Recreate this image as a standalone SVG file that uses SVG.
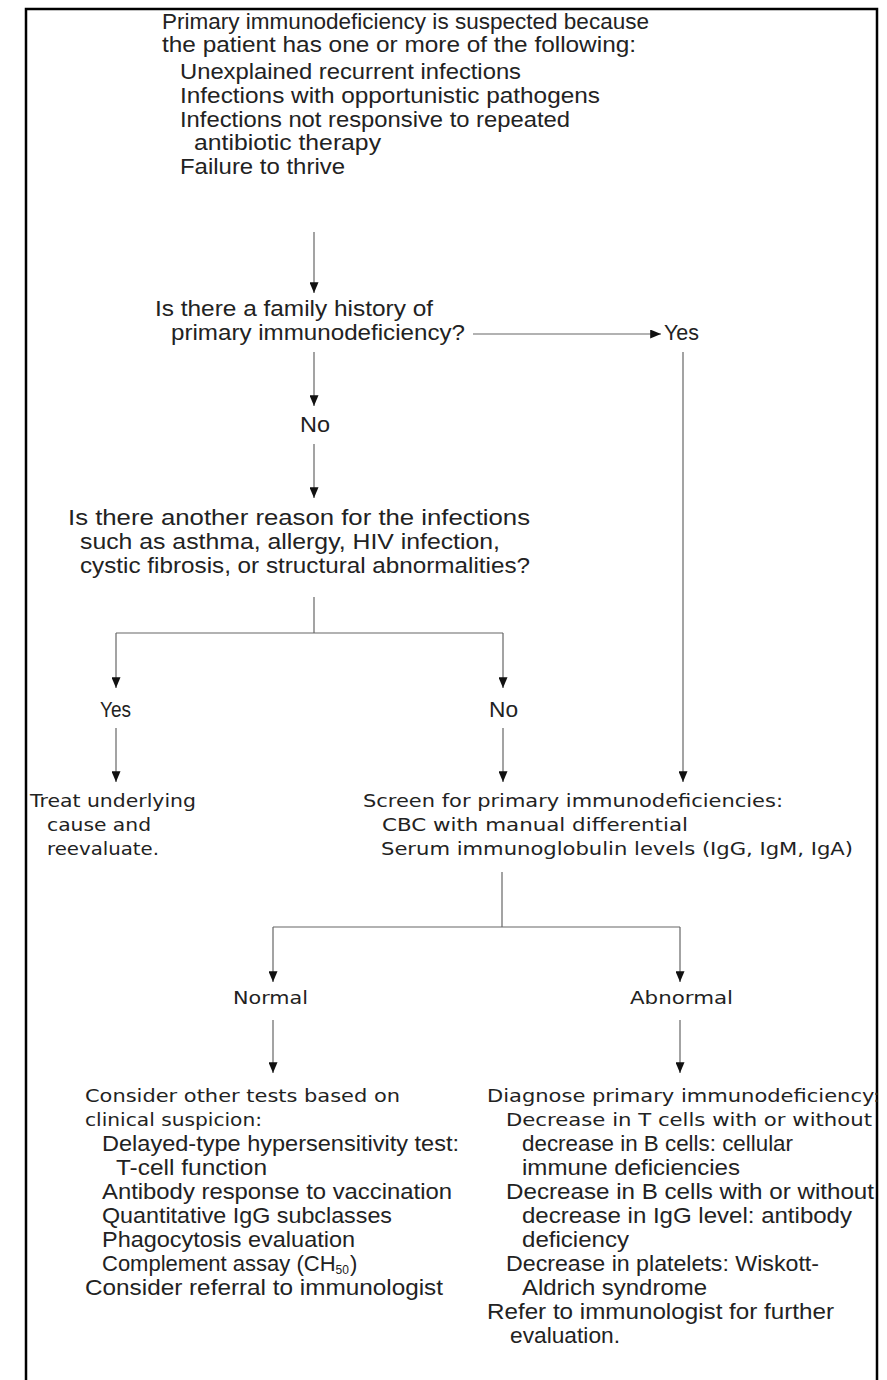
<svg xmlns="http://www.w3.org/2000/svg" width="887" height="1380" viewBox="0 0 887 1380">
<style>
.c{font-family:"Liberation Sans",Arial,sans-serif;font-size:22px;fill:#222}
.w{font-family:"DejaVu Sans",Verdana,sans-serif;font-size:17.5px;fill:#222}
.ln{stroke:#666;stroke-width:1.2;fill:none}
</style>
<defs>
<marker id="ah" viewBox="0 0 12 10" refX="12" refY="5" markerWidth="13" markerHeight="9" markerUnits="userSpaceOnUse" orient="auto">
<path d="M0,0 L12,5 L0,10 z" fill="#111"/>
</marker>
</defs>
<rect width="887" height="1380" fill="#fff"/>
<path d="M26,1380 V9 H877 V1380" fill="none" stroke="#000" stroke-width="2.5"/>

<g id="n-start">
<text class="c" x="162" y="29" textLength="487" lengthAdjust="spacingAndGlyphs">Primary immunodeficiency is suspected because</text>
<text class="c" x="162" y="52" textLength="474" lengthAdjust="spacingAndGlyphs">the patient has one or more of the following:</text>
<text class="c" x="180" y="79" textLength="341" lengthAdjust="spacingAndGlyphs">Unexplained recurrent infections</text>
<text class="c" x="180" y="103" textLength="420" lengthAdjust="spacingAndGlyphs">Infections with opportunistic pathogens</text>
<text class="c" x="180" y="127" textLength="390" lengthAdjust="spacingAndGlyphs">Infections not responsive to repeated</text>
<text class="c" x="194" y="150" textLength="187" lengthAdjust="spacingAndGlyphs">antibiotic therapy</text>
<text class="c" x="180" y="174" textLength="165" lengthAdjust="spacingAndGlyphs">Failure to thrive</text>
</g>

<g id="n-q1">
<text class="c" x="155" y="316" textLength="278" lengthAdjust="spacingAndGlyphs">Is there a family history of</text>
<text class="c" x="171" y="340" textLength="294" lengthAdjust="spacingAndGlyphs">primary immunodeficiency?</text>
</g>
<g id="n-yes1"><text class="c" x="664" y="340" textLength="35" lengthAdjust="spacingAndGlyphs">Yes</text></g>
<g id="n-no1"><text class="c" x="300" y="432" textLength="30" lengthAdjust="spacingAndGlyphs">No</text></g>

<g id="n-q2">
<text class="c" x="68" y="525" textLength="462" lengthAdjust="spacingAndGlyphs">Is there another reason for the infections</text>
<text class="c" x="80" y="549" textLength="420" lengthAdjust="spacingAndGlyphs">such as asthma, allergy, HIV infection,</text>
<text class="c" x="80" y="573" textLength="450" lengthAdjust="spacingAndGlyphs">cystic fibrosis, or structural abnormalities?</text>
</g>
<g id="n-yes2"><text class="c" x="100" y="717" textLength="31" lengthAdjust="spacingAndGlyphs">Yes</text></g>
<g id="n-no2"><text class="c" x="489" y="717" textLength="29" lengthAdjust="spacingAndGlyphs">No</text></g>

<g id="n-treat">
<text class="w" x="30" y="807" textLength="166" lengthAdjust="spacingAndGlyphs">Treat underlying</text>
<text class="w" x="47" y="831" textLength="104" lengthAdjust="spacingAndGlyphs">cause and</text>
<text class="w" x="47" y="855" textLength="112" lengthAdjust="spacingAndGlyphs">reevaluate.</text>
</g>

<g id="n-screen">
<text class="w" x="363" y="807" textLength="420" lengthAdjust="spacingAndGlyphs">Screen for primary immunodeficiencies:</text>
<text class="w" x="382" y="831" textLength="306" lengthAdjust="spacingAndGlyphs">CBC with manual differential</text>
<text class="w" x="381" y="855" textLength="472" lengthAdjust="spacingAndGlyphs">Serum immunoglobulin levels (IgG, IgM, IgA)</text>
</g>

<g id="n-normal"><text class="w" x="233" y="1004" textLength="75" lengthAdjust="spacingAndGlyphs">Normal</text></g>
<g id="n-abnormal"><text class="w" x="630" y="1004" textLength="103" lengthAdjust="spacingAndGlyphs">Abnormal</text></g>

<g id="n-consider">
<text class="w" x="85" y="1102" textLength="315" lengthAdjust="spacingAndGlyphs">Consider other tests based on</text>
<text class="w" x="85" y="1126" textLength="177" lengthAdjust="spacingAndGlyphs">clinical suspicion:</text>
<text class="c" x="102" y="1151" textLength="357" lengthAdjust="spacingAndGlyphs">Delayed-type hypersensitivity test:</text>
<text class="c" x="116" y="1175" textLength="151" lengthAdjust="spacingAndGlyphs">T-cell function</text>
<text class="c" x="102" y="1199" textLength="350" lengthAdjust="spacingAndGlyphs">Antibody response to vaccination</text>
<text class="c" x="102" y="1223" textLength="290" lengthAdjust="spacingAndGlyphs">Quantitative IgG subclasses</text>
<text class="c" x="102" y="1247" textLength="253" lengthAdjust="spacingAndGlyphs">Phagocytosis evaluation</text>
<text class="c" x="102" y="1271">Complement assay (CH<tspan font-size="12" dy="3">50</tspan><tspan dx="1" dy="-3">)</tspan></text>
<text class="c" x="85" y="1295" textLength="358" lengthAdjust="spacingAndGlyphs">Consider referral to immunologist</text>
</g>

<g id="n-diagnose">
<text class="w" x="487" y="1102" textLength="393" lengthAdjust="spacingAndGlyphs">Diagnose primary immunodeficiency:</text>
<text class="w" x="506" y="1126" textLength="366" lengthAdjust="spacingAndGlyphs">Decrease in T cells with or without</text>
<text class="c" x="522" y="1151" textLength="271" lengthAdjust="spacingAndGlyphs">decrease in B cells: cellular</text>
<text class="c" x="522" y="1175" textLength="218" lengthAdjust="spacingAndGlyphs">immune deficiencies</text>
<text class="c" x="506" y="1199" textLength="368" lengthAdjust="spacingAndGlyphs">Decrease in B cells with or without</text>
<text class="c" x="522" y="1223" textLength="330" lengthAdjust="spacingAndGlyphs">decrease in IgG level: antibody</text>
<text class="c" x="522" y="1247" textLength="107" lengthAdjust="spacingAndGlyphs">deficiency</text>
<text class="c" x="506" y="1271" textLength="313" lengthAdjust="spacingAndGlyphs">Decrease in platelets: Wiskott-</text>
<text class="c" x="522" y="1295" textLength="185" lengthAdjust="spacingAndGlyphs">Aldrich syndrome</text>
<text class="c" x="487" y="1319" textLength="347" lengthAdjust="spacingAndGlyphs">Refer to immunologist for further</text>
<text class="c" x="510" y="1343" textLength="110" lengthAdjust="spacingAndGlyphs">evaluation.</text>
</g>

<g id="connectors">
<path class="ln" d="M314,232 V293" marker-end="url(#ah)"/>
<path class="ln" d="M473,334 H661" marker-end="url(#ah)"/>
<path class="ln" d="M314,352 V406" marker-end="url(#ah)"/>
<path class="ln" d="M314,444 V498" marker-end="url(#ah)"/>
<path class="ln" d="M683,352 V782" marker-end="url(#ah)"/>
<path class="ln" d="M314,597 V633"/>
<path class="ln" d="M116,633 H503"/>
<path class="ln" d="M116,633 V688" marker-end="url(#ah)"/>
<path class="ln" d="M503,633 V688" marker-end="url(#ah)"/>
<path class="ln" d="M116,728 V782" marker-end="url(#ah)"/>
<path class="ln" d="M503,728 V782" marker-end="url(#ah)"/>
<path class="ln" d="M502,872 V927"/>
<path class="ln" d="M273,927 H680"/>
<path class="ln" d="M273,927 V982" marker-end="url(#ah)"/>
<path class="ln" d="M680,927 V982" marker-end="url(#ah)"/>
<path class="ln" d="M273,1020 V1073" marker-end="url(#ah)"/>
<path class="ln" d="M680,1020 V1073" marker-end="url(#ah)"/>
</g>
</svg>
